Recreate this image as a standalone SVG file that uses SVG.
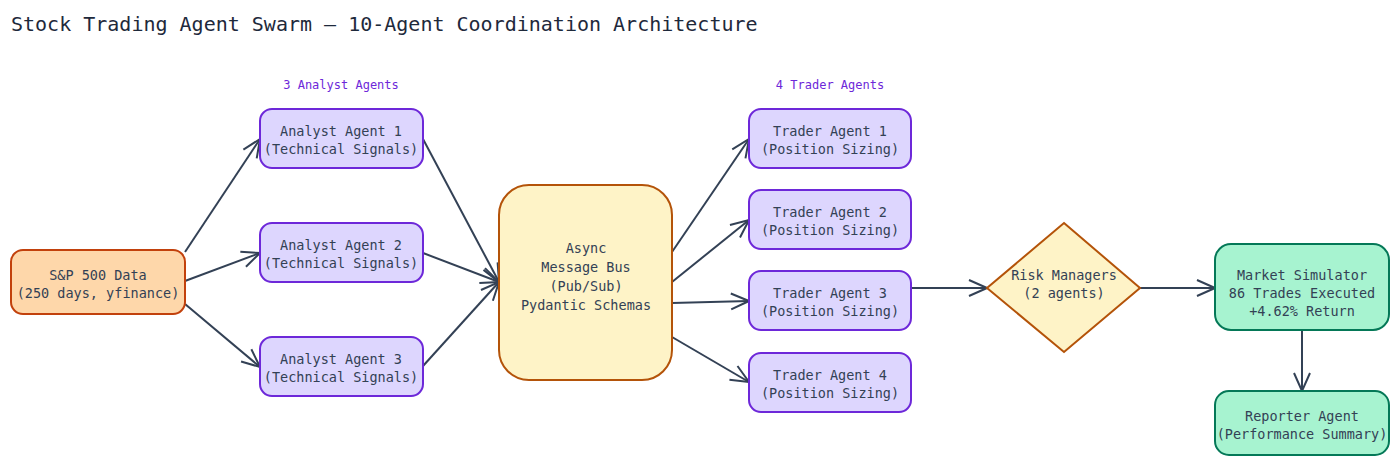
<svg xmlns="http://www.w3.org/2000/svg" width="1400" height="467" viewBox="0 0 1400 467">
<style>
text{font-family:"DejaVu Sans Mono","Liberation Mono",monospace;font-size:13.5px;fill:#334155;text-anchor:middle}
.title{font-size:20px;text-anchor:start;fill:#1e293b}
.lbl{font-size:12px;fill:#6d28d9}
.src{fill:#fed7aa;stroke:#c2410c;stroke-width:2}
.ag{fill:#ddd6fe;stroke:#6d28d9;stroke-width:2}
.bus{fill:#fef3c7;stroke:#b45309;stroke-width:2}
.out{fill:#a7f3d0;stroke:#047857;stroke-width:2}
.c{stroke:#334155;stroke-width:2;fill:none;marker-end:url(#a)}
</style>
<defs><marker id="a" viewBox="0 0 20 20" refX="19" refY="10" markerWidth="20" markerHeight="20" markerUnits="userSpaceOnUse" orient="auto"><path d="M1,2 L19,10 L1,18" fill="none" stroke="#334155" stroke-width="2"/></marker></defs>
<rect width="1400" height="467" fill="#fff"/>
<text class="title" x="11" y="31">Stock Trading Agent Swarm — 10-Agent Coordination Architecture</text>
<text class="lbl" x="341" y="89">3 Analyst Agents</text>
<text class="lbl" x="830" y="89">4 Trader Agents</text>
<g id="connectors">
<path class="c" d="M185,252 L260,139"/>
<path class="c" d="M185,281 L260,253"/>
<path class="c" d="M185,304 L260,367"/>
<path class="c" d="M423,139 L499,282"/>
<path class="c" d="M423,253 L499,282"/>
<path class="c" d="M423,366 L499,282"/>
<path class="c" d="M672,252 L749,139"/>
<path class="c" d="M672,282 L749,220"/>
<path class="c" d="M672,303 L749,301"/>
<path class="c" d="M672,337 L749,382"/>
<path class="c" d="M911,288 L987,288"/>
<path class="c" d="M1140,288 L1215,288"/>
<path class="c" d="M1302,330 L1302,391"/>
</g>
<g id="sp500"><rect class="src" x="11" y="250" width="174" height="64" rx="12"/><text x="98" y="280">S&amp;P 500 Data</text><text x="98" y="298">(250 days, yfinance)</text></g>
<g id="analyst1"><rect class="ag" x="260" y="109" width="163" height="59" rx="12"/><text x="341" y="136">Analyst Agent 1</text><text x="341" y="154">(Technical Signals)</text></g>
<g id="analyst2"><rect class="ag" x="260" y="223" width="163" height="59" rx="12"/><text x="341" y="250">Analyst Agent 2</text><text x="341" y="268">(Technical Signals)</text></g>
<g id="analyst3"><rect class="ag" x="260" y="337" width="163" height="59" rx="12"/><text x="341" y="364">Analyst Agent 3</text><text x="341" y="382">(Technical Signals)</text></g>
<g id="bus"><rect class="bus" x="499" y="185" width="173" height="195" rx="30"/><text x="586" y="253">Async</text><text x="586" y="272">Message Bus</text><text x="586" y="291">(Pub/Sub)</text><text x="586" y="310">Pydantic Schemas</text></g>
<g id="trader1"><rect class="ag" x="749" y="109" width="162" height="59" rx="12"/><text x="830" y="136">Trader Agent 1</text><text x="830" y="154">(Position Sizing)</text></g>
<g id="trader2"><rect class="ag" x="749" y="190" width="162" height="59" rx="12"/><text x="830" y="217">Trader Agent 2</text><text x="830" y="235">(Position Sizing)</text></g>
<g id="trader3"><rect class="ag" x="749" y="271" width="162" height="59" rx="12"/><text x="830" y="298">Trader Agent 3</text><text x="830" y="316">(Position Sizing)</text></g>
<g id="trader4"><rect class="ag" x="749" y="353" width="162" height="59" rx="12"/><text x="830" y="380">Trader Agent 4</text><text x="830" y="398">(Position Sizing)</text></g>
<g id="risk"><path class="bus" d="M1064,223 L1140,288 L1064,352 L987,288 Z"/><text x="1064" y="280">Risk Managers</text><text x="1064" y="298">(2 agents)</text></g>
<g id="market"><rect class="out" x="1215" y="244" width="174" height="86" rx="16"/><text x="1302" y="280">Market Simulator</text><text x="1302" y="298">86 Trades Executed</text><text x="1302" y="316">+4.62% Return</text></g>
<g id="reporter"><rect class="out" x="1215" y="391" width="174" height="64" rx="14"/><text x="1302" y="421">Reporter Agent</text><text x="1302" y="439">(Performance Summary)</text></g>
</svg>
